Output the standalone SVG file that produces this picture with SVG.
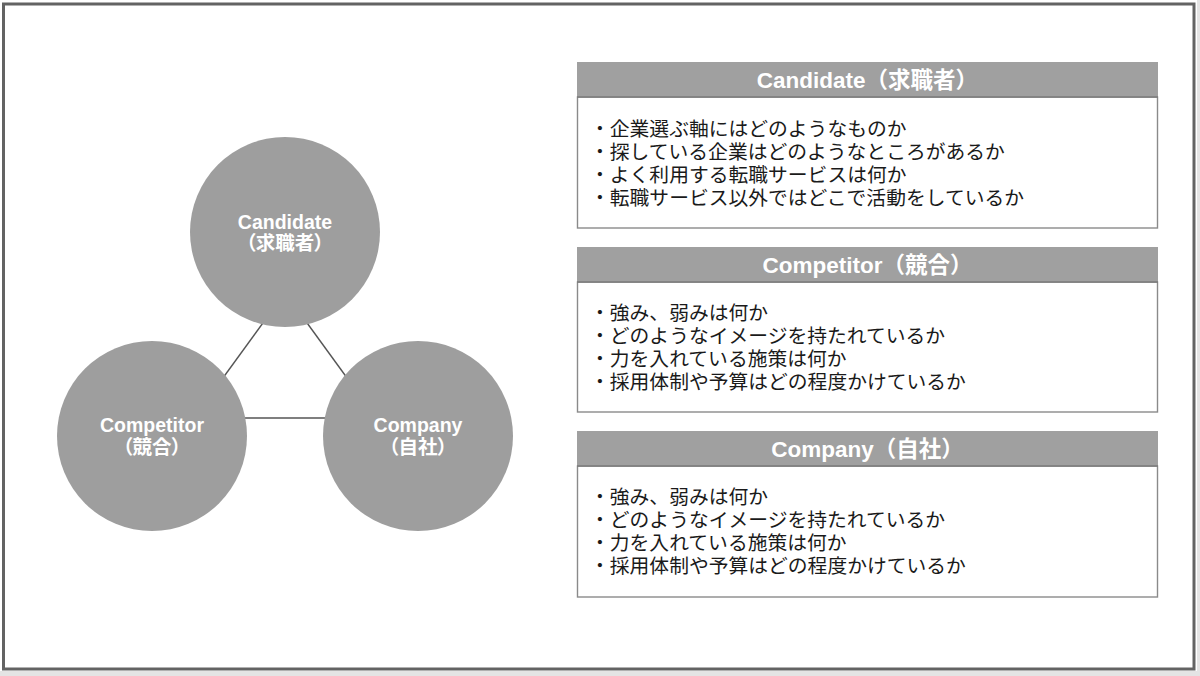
<svg xmlns="http://www.w3.org/2000/svg" width="1200" height="676" viewBox="0 0 1200 676">
<style>
.bg{fill:#ffffff}
.frame{fill:none;stroke:#636363;stroke-width:3}
.node{fill:#9e9e9e}
.conn{stroke:#555555;stroke-width:1.4;fill:none}
.nlabel{font-family:"Liberation Sans","Noto Sans CJK JP",sans-serif;font-weight:bold;font-size:19.5px;fill:#ffffff;text-anchor:middle}
.jp{font-feature-settings:"palt"}
.head{fill:#a0a0a0}
.body{fill:#ffffff;stroke:#8a8a8a;stroke-width:1.4}
.htext{font-family:"Liberation Sans","Noto Sans CJK JP",sans-serif;font-weight:bold;font-size:22.5px;fill:#ffffff;text-anchor:middle}
.btext{font-family:"Noto Sans CJK JP",sans-serif;font-size:19.8px;fill:#1a1a1a}
</style>
<rect class="bg" x="0" y="0" width="1200" height="676"/>
<rect x="1197" y="0" width="3" height="676" fill="#e4e4e4"/>
<rect x="0" y="671" width="1200" height="5" fill="#e4e4e4"/>
<rect class="frame" x="3.5" y="4" width="1190.5" height="665"/>

<g id="connectors">
<line class="conn" x1="268" y1="316" x2="220" y2="382"/>
<line class="conn" x1="302" y1="316" x2="350" y2="382"/>
<line class="conn" x1="240" y1="418" x2="330" y2="418"/>
</g>

<g id="node-candidate">
<circle class="node" cx="285" cy="232" r="95"/>
<text class="nlabel" x="285" y="229">Candidate</text>
<text class="nlabel jp" x="285" y="250">（求職者）</text>
</g>
<g id="node-competitor">
<circle class="node" cx="152" cy="436" r="95"/>
<text class="nlabel" x="152" y="432">Competitor</text>
<text class="nlabel jp" x="152" y="454">（競合）</text>
</g>
<g id="node-company">
<circle class="node" cx="418" cy="436" r="95"/>
<text class="nlabel" x="418" y="432">Company</text>
<text class="nlabel jp" x="418" y="454">（自社）</text>
</g>

<g id="panel-candidate">
<rect class="body" x="577.5" y="97" width="580" height="131"/>
<rect class="head" x="577" y="62" width="581" height="35"/>
<line x1="577" y1="97" x2="1158" y2="97" stroke="#7a7a7a" stroke-width="1.4"/>
<text class="htext" x="867.5" y="87.5">Candidate（求職者）</text>
<text class="btext" x="590" y="136">・企業選ぶ軸にはどのようなものか</text>
<text class="btext" x="590" y="159">・探している企業はどのようなところがあるか</text>
<text class="btext" x="590" y="182">・よく利用する転職サービスは何か</text>
<text class="btext" x="590" y="205">・転職サービス以外ではどこで活動をしているか</text>
</g>
<g id="panel-competitor">
<rect class="body" x="577.5" y="282" width="580" height="130"/>
<rect class="head" x="577" y="247" width="581" height="35"/>
<line x1="577" y1="282" x2="1158" y2="282" stroke="#7a7a7a" stroke-width="1.4"/>
<text class="htext" x="867.5" y="272.5">Competitor（競合）</text>
<text class="btext" x="590" y="320">・強み、弱みは何か</text>
<text class="btext" x="590" y="343">・どのようなイメージを持たれているか</text>
<text class="btext" x="590" y="366">・力を入れている施策は何か</text>
<text class="btext" x="590" y="389">・採用体制や予算はどの程度かけているか</text>
</g>
<g id="panel-company">
<rect class="body" x="577.5" y="466" width="580" height="131"/>
<rect class="head" x="577" y="431" width="581" height="35"/>
<line x1="577" y1="466" x2="1158" y2="466" stroke="#7a7a7a" stroke-width="1.4"/>
<text class="htext" x="867.5" y="456.5">Company（自社）</text>
<text class="btext" x="590" y="504">・強み、弱みは何か</text>
<text class="btext" x="590" y="527">・どのようなイメージを持たれているか</text>
<text class="btext" x="590" y="550">・力を入れている施策は何か</text>
<text class="btext" x="590" y="573">・採用体制や予算はどの程度かけているか</text>
</g>
</svg>
